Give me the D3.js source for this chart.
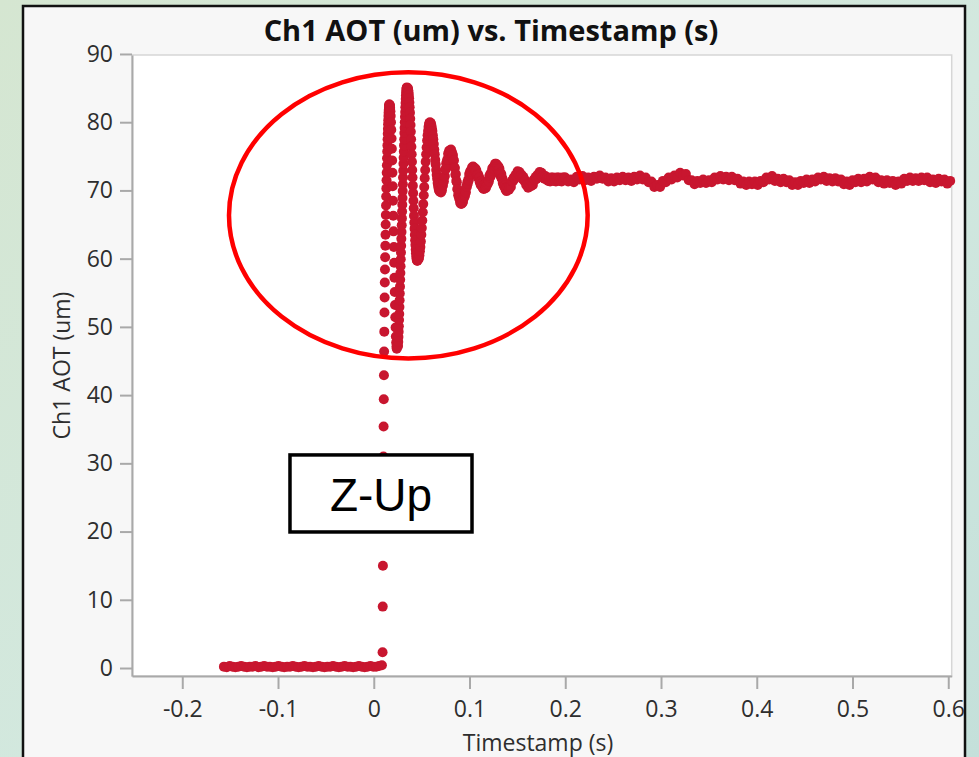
<!DOCTYPE html>
<html>
<head>
<meta charset="utf-8">
<script src="https://cdn.jsdelivr.net/npm/d3@7"></script>
<style>
  html, body { margin: 0; padding: 0; overflow: hidden; background: #fff; }
  svg { display: block; font-family: "Open Sans", "Noto Sans", sans-serif; }
</style>
</head>
<body>
<svg id="chart" width="979" height="757"></svg>
<script>
var xTicks = [-0.2, -0.1, 0, 0.1, 0.2, 0.3, 0.4, 0.5, 0.6];
var xTickLabels = ["-0.2", "-0.1", "0", "0.1", "0.2", "0.3", "0.4", "0.5", "0.6"];
var yTicks = [0, 10, 20, 30, 40, 50, 60, 70, 80, 90];
var yTickLabels = ["0", "10", "20", "30", "40", "50", "60", "70", "80", "90"];

// Ch1 AOT (um) samples, grouped by stretch of the record: start timestamp (s), sample step (s), values
var preTriggerStart = -0.1565, preTriggerStep = 0.003;
var preTrigger = [0.2, 0.1, 0.3, 0.2, 0.1, 0.2, 0.3, 0.2, 0.1, 0.2, 0.2, 0.3, 0.1, 0.2, 0.3, 0.2, 0.2, 0.1, 0.2, 0.3,
    0.2, 0.1, 0.2, 0.2, 0.3, 0.2, 0.1, 0.2, 0.3, 0.2, 0.2, 0.1, 0.2, 0.3, 0.2, 0.1, 0.2, 0.2, 0.3, 0.2,
    0.1, 0.2, 0.3, 0.2, 0.2, 0.1, 0.2, 0.3, 0.2, 0.1, 0.2, 0.3, 0.2, 0.2, 0.3, 0.4];

var riseEdgeStart = 0.0092, riseEdgeStep = 0.00018;
var riseEdge = [2.3, 9.0, 15.0, 20.6, 26.0, 31.0, 35.4, 39.4, 42.9, 46.4, 49.3, 52.1, 54.3, 56.5, 58.4, 60.2,
    61.9, 63.5, 65.0, 66.4, 67.8, 69.1, 70.3, 71.5, 72.6, 73.7, 74.7, 75.7, 76.6, 77.5, 78.3, 79.0,
    79.7, 80.3, 80.9, 81.4, 81.8, 82.1, 82.4, 82.6, 82.6, 82.5];

var firstFallStart = 0.0168, firstFallStep = 0.0003;
var firstFall = [82.4, 82.1, 81.6, 80.9, 80.0, 78.9, 77.6, 76.1, 74.4, 72.6, 70.6, 68.5, 66.3, 64.0, 61.7,
    59.4, 57.2, 55.1, 53.2, 51.4, 49.9, 48.6, 47.7, 47.1, 46.8];

var secondRiseStart = 0.0254, secondRiseStep = 0.0002;
var secondRise = [47.2, 47.8, 48.5, 49.3, 50.1, 51.0, 51.9, 52.9, 53.9, 54.9, 55.9, 56.9, 57.9, 58.9, 59.9,
    60.9, 61.9, 62.9, 63.9, 64.9, 65.9, 66.9, 67.9, 68.9, 69.9, 70.9, 71.9, 72.9, 73.9, 74.8, 75.7,
    76.6, 77.5, 78.4, 79.2, 80.0, 80.8, 81.5, 82.2, 82.8, 83.4, 83.9, 84.3, 84.6, 84.9, 85.0, 85.1];

var secondFallStart = 0.0354, secondFallStep = 0.0003;
var secondFall = [85.0, 84.9, 84.7, 84.4, 84.0, 83.5, 82.9, 82.2, 81.4, 80.5, 79.6, 78.6, 77.5, 76.4, 75.3,
    74.2, 73.0, 71.9, 70.7, 69.6, 68.5, 67.4, 66.3, 65.3, 64.4, 63.5, 62.7, 62.0, 61.3, 60.8, 60.3,
    60.0, 59.8, 59.7, 59.7];

var ringFastStart = 0.0467, ringFastStep = 0.0005;
var ringFast = [59.9, 60.1, 60.5, 61.1, 61.7, 62.5, 63.5, 64.5, 65.6, 66.8, 68.0, 69.3, 70.5, 71.8, 73.0,
    74.2, 75.3, 76.3, 77.3, 78.1, 78.7, 79.3, 79.7, 79.9, 80.0,
    79.9, 79.8, 79.5, 79.1, 78.7, 78.1, 77.5, 76.8, 76.0, 75.3, 74.5, 73.8, 73.0, 72.3, 71.7, 71.1,
    70.7, 70.3, 70.0, 69.9, 69.8];

var ringSlowStart = 0.0697, ringSlowStep = 0.0005;
var ringSlow = [70.1, 69.7, 70.2, 70.0, 70.8, 70.7, 71.4, 71.3, 72.0, 72.1, 73.1, 73.1, 74.0, 73.8, 74.5,
    74.5, 75.4, 75.2, 75.8, 75.4, 75.9, 75.5,
    76.0, 75.4, 75.6, 74.9, 75.2, 74.4, 74.4, 73.4, 73.3, 72.3, 72.4, 71.4, 71.2, 70.2, 70.1, 69.3,
    69.5, 68.8, 68.9, 68.2, 68.4, 68.0,
    68.6, 68.1, 68.6, 68.3, 69.1, 68.9, 69.4, 69.2, 69.8, 69.7, 70.6, 70.5, 71.2, 71.0, 71.6, 71.5,
    72.4, 72.2, 72.8, 72.5, 73.0, 72.7, 73.4, 73.1, 73.5,
    73.4, 72.9, 73.2, 72.7, 73.2, 72.7, 72.9, 72.2, 72.4, 71.9, 72.3, 71.7, 71.9, 71.2, 71.4, 70.8,
    71.3, 70.8, 71.0, 70.4, 70.7, 70.2, 70.8,
    70.8, 70.3, 70.7, 70.4, 71.1, 70.8, 71.3, 71.0, 71.5, 71.3, 72.1, 71.9, 72.4, 72.1, 72.6, 72.4,
    73.2, 72.9, 73.4, 73.1, 73.5, 73.2, 73.9, 73.5, 73.9,
    73.8, 73.3, 73.6, 73.1, 73.5, 73.0, 73.2, 72.5, 72.6, 72.0, 72.4, 71.7, 71.8, 71.1, 71.3, 70.7,
    71.1, 70.5, 70.8, 70.1, 70.4, 69.9, 70.5];

var ringTailStart = 0.1402, ringTailStep = 0.001;
var ringTail = [70.5, 70.1, 70.6, 70.5, 71.4, 71.3, 71.9, 71.7, 72.3, 72.1, 72.8, 72.4,
    72.7, 72.1, 72.3, 71.7, 72.0, 71.4, 71.5, 70.8, 70.9, 70.4, 71.0,
    71.0, 70.6, 71.1, 70.8, 71.6, 71.5, 72.0, 71.7, 72.3, 72.0, 72.7, 72.3,
    72.6, 72.0, 72.2, 71.7, 72.1, 71.6, 71.9, 71.4, 71.7, 71.3, 71.9, 71.5, 71.9, 71.4, 71.7, 71.3,
    71.9, 71.5, 71.9, 71.4, 71.7, 71.3, 71.9, 71.5, 71.9];

var settledStart = 0.200, settledStep = 0.003;
var settled = [71.9, 71.3, 71.6, 71.2, 72.0, 71.6, 72.1, 71.5, 71.9, 71.4, 72.0, 71.7, 72.2, 71.7, 71.9,
    71.3, 71.8, 71.3, 71.9, 71.5, 72.0, 71.5, 71.9, 71.4, 72.0, 71.6, 72.2, 71.6, 71.9, 71.2,
    71.3, 70.5, 70.8, 70.5, 71.4, 71.2, 71.9, 71.6, 72.2, 71.9, 72.6, 72.2, 72.4, 71.5, 71.5,
    70.9, 71.4, 71.1, 71.6, 71.1, 71.5, 71.2, 71.9, 71.6, 72.1, 71.6, 72.0, 71.5, 72.0, 71.5,
    71.7, 71.0, 71.3, 70.8, 71.3, 70.9, 71.3, 70.8, 71.4, 71.2, 71.9, 71.6, 72.1, 71.4, 71.7,
    71.2, 71.7, 71.2, 71.5, 70.8, 71.2, 70.8, 71.4, 71.1, 71.6, 71.1, 71.6, 71.3, 71.9, 71.6,
    72.0, 71.4, 71.8, 71.3, 71.8, 71.3, 71.6, 70.9, 71.3, 70.8, 71.5, 71.2, 71.7, 71.2, 71.7,
    71.3, 72.0, 71.6, 71.9, 71.2, 71.5, 71.0, 71.5, 71.1, 71.4, 70.8, 71.3, 71.0, 71.7, 71.4,
    71.9, 71.4, 71.8, 71.4, 71.9, 71.5, 71.9, 71.2, 71.6, 71.1, 71.7, 71.3, 71.6, 71.0, 71.4];

function segment(start, step, values) {
    return values.map((v, i) => ({t: start + i * step, v: v}));
}

var samples = [].concat(
    segment(preTriggerStart, preTriggerStep, preTrigger),
    segment(riseEdgeStart, riseEdgeStep, riseEdge),
    segment(firstFallStart, firstFallStep, firstFall),
    segment(secondRiseStart, secondRiseStep, secondRise),
    segment(secondFallStart, secondFallStep, secondFall),
    segment(ringFastStart, ringFastStep, ringFast),
    segment(ringSlowStart, ringSlowStep, ringSlow),
    segment(ringTailStart, ringTailStep, ringTail),
    segment(settledStart, settledStep, settled)
);

var svg = d3.select("#chart");

var defs = svg.append("defs");
var grad = defs.append("linearGradient")
    .attr("id", "bg")
    .attr("x1", 0).attr("y1", 0).attr("x2", 1).attr("y2", 1);
grad.append("stop").attr("offset", 0).attr("stop-color", "#d5e6d1");
grad.append("stop").attr("offset", 0.55).attr("stop-color", "#d2e8df");
grad.append("stop").attr("offset", 1).attr("stop-color", "#c4e0da");

svg.append("rect")
    .attr("width", 979).attr("height", 757)
    .attr("fill", "url(#bg)");

// chart window
svg.append("rect")
    .attr("x", 23).attr("y", 6)
    .attr("width", 942).attr("height", 780)
    .attr("fill", "#f7f7f7")
    .attr("stroke", "#111")
    .attr("stroke-width", 2.5);

svg.append("text")
    .attr("x", 491).attr("y", 41)
    .attr("text-anchor", "middle")
    .style("font-size", "29px")
    .style("font-weight", "bold")
    .attr("fill", "#111")
    .text("Ch1 AOT (um) vs. Timestamp (s)");

var x = d3.scaleLinear().domain([-0.2525, 0.6036]).range([132, 951.7]);
var y = d3.scaleLinear().domain([-1.17, 89.85]).range([676, 55]);

svg.append("rect")
    .attr("x", x.range()[0]).attr("y", y.range()[1])
    .attr("width", x.range()[1] - x.range()[0])
    .attr("height", y.range()[0] - y.range()[1])
    .attr("fill", "#fff")
    .attr("stroke", "#d6d6d6")
    .attr("stroke-width", 1.5);

var xAxis = svg.append("g")
    .attr("transform", "translate(0," + y.range()[0] + ")")
    .call(d3.axisBottom(x).tickValues(xTicks).tickFormat((d, i) => xTickLabels[i]).tickSize(13).tickSizeOuter(0));
xAxis.selectAll("text").attr("y", 41).attr("dy", null);

var yAxis = svg.append("g")
    .attr("transform", "translate(" + x.range()[0] + ",0)")
    .call(d3.axisLeft(y).tickValues(yTicks).tickFormat((d, i) => yTickLabels[i]).tickSize(12).tickPadding(7).tickSizeOuter(0));

svg.selectAll(".domain, .tick line")
    .attr("stroke", "#a9a9a9")
    .attr("stroke-width", 2);
svg.selectAll(".tick text")
    .attr("fill", "#2e2e2e")
    .style("font-size", "23px")
    .style("font-family", "'Open Sans', sans-serif");

svg.append("text")
    .attr("transform", "translate(70," + (y.range()[0] + y.range()[1]) / 2 + ") rotate(-90)")
    .attr("text-anchor", "middle")
    .style("font-size", "23px")
    .attr("fill", "#2e2e2e")
    .text("Ch1 AOT (um)");

svg.append("text")
    .attr("x", 538).attr("y", 751)
    .attr("text-anchor", "middle")
    .style("font-size", "23px")
    .attr("fill", "#2e2e2e")
    .text("Timestamp (s)");

svg.append("g")
    .selectAll("circle")
    .data(samples)
    .join("circle")
    .attr("cx", d => x(d.t))
    .attr("cy", d => y(d.v))
    .attr("r", 5)
    .attr("fill", "#c8162f");

// callouts
var ring = {t: 0.0361, v: 66.35, dt: 0.1873, dv: 20.97};
svg.append("ellipse")
    .attr("cx", x(ring.t)).attr("cy", y(ring.v))
    .attr("rx", x(ring.t + ring.dt) - x(ring.t))
    .attr("ry", y(ring.v - ring.dv) - y(ring.v))
    .attr("fill", "none")
    .attr("stroke", "#ff0000")
    .attr("stroke-width", 4.5);

var label = {t0: -0.0875, t1: 0.1026, v0: 31.23, v1: 19.94};
svg.append("rect")
    .attr("x", x(label.t0)).attr("y", y(label.v0))
    .attr("width", x(label.t1) - x(label.t0))
    .attr("height", y(label.v1) - y(label.v0))
    .attr("fill", "#fff")
    .attr("stroke", "#000")
    .attr("stroke-width", 3.5);

svg.append("text")
    .attr("x", (x(label.t0) + x(label.t1)) / 2)
    .attr("y", y(label.v1) - 21)
    .attr("text-anchor", "middle")
    .style("font-family", "'Liberation Sans', Arial, sans-serif")
    .style("font-size", "46px")
    .attr("fill", "#000")
    .text("Z-Up");
</script>
</body>
</html>
